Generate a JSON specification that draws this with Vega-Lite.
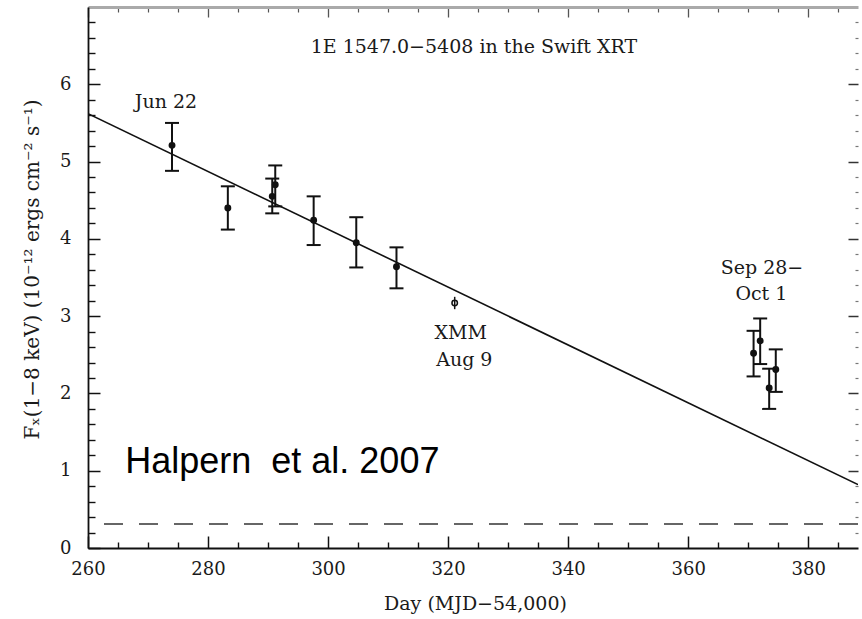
{
  "$schema": "https://vega.github.io/schema/vega-lite/v6.json",
  "width": 770,
  "height": 541,
  "autosize": {"type": "none"},
  "padding": {"left": 88, "top": 7, "right": 4, "bottom": 71},
  "background": "white",
  "config": {
    "view": {"stroke": null},
    "axis": {
      "labelFont": "DejaVu Serif",
      "labelFontSize": 18,
      "labelColor": "#1a1a1a",
      "titleFont": "DejaVu Serif",
      "titleFontSize": 18,
      "titleFontWeight": "normal",
      "titleColor": "#1a1a1a",
      "grid": false,
      "tickColor": "#111",
      "domainColor": "#111"
    }
  },
  "datasets": {
    "swift": [
      {"day": 274.0, "flux": 5.21, "lo": 4.88, "hi": 5.50},
      {"day": 283.3, "flux": 4.40, "lo": 4.12, "hi": 4.68},
      {"day": 290.7, "flux": 4.55, "lo": 4.33, "hi": 4.78},
      {"day": 291.2, "flux": 4.70, "lo": 4.42, "hi": 4.95},
      {"day": 297.6, "flux": 4.24, "lo": 3.92, "hi": 4.55},
      {"day": 304.7, "flux": 3.95, "lo": 3.63, "hi": 4.28},
      {"day": 311.4, "flux": 3.64, "lo": 3.36, "hi": 3.89},
      {"day": 370.9, "flux": 2.52, "lo": 2.22, "hi": 2.81},
      {"day": 372.0, "flux": 2.68, "lo": 2.38, "hi": 2.97},
      {"day": 373.5, "flux": 2.07, "lo": 1.80, "hi": 2.32},
      {"day": 374.6, "flux": 2.31, "lo": 2.02, "hi": 2.57}
    ],
    "xmm": [
      {"day": 321.1, "flux": 3.17, "lo": 3.09, "hi": 3.25}
    ],
    "fit": [
      {"day": 260.0, "flux": 5.62},
      {"day": 388.3, "flux": 0.82}
    ],
    "quiescent": [
      {"flux": 0.31}
    ],
    "labels": [
      {"day": 324.3, "flux": 6.48, "label": "1E 1547.0−5408 in the Swift XRT"},
      {"day": 273.0, "flux": 5.77, "label": "Jun 22"},
      {"day": 372.3, "flux": 3.62, "label": "Sep 28−"},
      {"day": 372.2, "flux": 3.29, "label": "Oct 1"},
      {"day": 322.1, "flux": 2.78, "label": "XMM"},
      {"day": 322.7, "flux": 2.43, "label": "Aug 9"}
    ],
    "credit": [
      {"day": 266.2, "flux": 0.97, "label": "Halpern\u00a0 et al. 2007"}
    ]
  },
  "resolve": {"axis": {"x": "independent", "y": "independent"}},
  "layer": [
    {
      "data": {"name": "fit"},
      "mark": {"type": "line", "color": "#111", "strokeWidth": 1.6, "clip": true},
      "encoding": {
        "x": {
          "field": "day", "type": "quantitative",
          "scale": {"domain": [260, 388.3], "nice": false, "zero": false},
          "axis": {
            "orient": "bottom", "values": [260, 280, 300, 320, 340, 360, 380],
            "ticks": false, "labelPadding": 12, "domainWidth": 1.8,
            "labelFlush": false, "labelOverlap": false,
            "title": "Day (MJD−54,000)", "titleFontSize": 19, "titleX": 387, "titleY": 55,
            "titleBaseline": "middle", "titleAlign": "center"
          }
        },
        "y": {
          "field": "flux", "type": "quantitative",
          "scale": {"domain": [0, 7], "nice": false, "zero": true},
          "axis": {
            "orient": "left", "values": [0, 1, 2, 3, 4, 5, 6],
            "ticks": false, "labelPadding": 17, "domainWidth": 1.8,
            "labelFlush": false, "labelOverlap": false,
            "title": "Fₓ(1−8 keV) (10⁻¹² ergs cm⁻² s⁻¹)", "titleFontSize": 20,
            "titleX": -56, "titleY": 262, "titleBaseline": "middle", "titleAlign": "center", "titleAngle": -90
          }
        }
      }
    },
    {
      "data": {"name": "quiescent"},
      "mark": {"type": "rule", "color": "#666", "strokeWidth": 2, "strokeDash": [19, 16]},
      "encoding": {
        "y": {"field": "flux", "type": "quantitative", "axis": null}
      }
    },
    {
      "data": {"name": "swift"},
      "mark": {"type": "rule", "color": "#111", "strokeWidth": 2},
      "encoding": {
        "x": {
          "field": "day", "type": "quantitative",
          "axis": {
            "orient": "bottom", "values": [260, 280, 300, 320, 340, 360, 380],
            "labels": false, "domain": false, "tickSize": -12, "tickWidth": 1.5, "title": null
          }
        },
        "y": {
          "field": "lo", "type": "quantitative",
          "axis": {
            "orient": "left", "values": [0, 1, 2, 3, 4, 5, 6],
            "labels": false, "domain": false, "tickSize": -12, "tickWidth": 1.5, "title": null
          }
        },
        "y2": {"field": "hi"}
      }
    },
    {
      "data": {"name": "swift"},
      "mark": {"type": "tick", "orient": "horizontal", "color": "#111", "thickness": 2, "size": 14, "opacity": 1},
      "encoding": {
        "x": {
          "field": "day", "type": "quantitative",
          "axis": {
            "orient": "bottom",
            "values": [265, 270, 275, 285, 290, 295, 305, 310, 315, 325, 330, 335, 345, 350, 355, 365, 370, 375, 385],
            "labels": false, "domain": false, "tickSize": -6, "tickWidth": 1.4, "title": null
          }
        },
        "y": {
          "field": "hi", "type": "quantitative",
          "axis": {
            "orient": "left",
            "values": [0.2, 0.4, 0.6, 0.8, 1.2, 1.4, 1.6, 1.8, 2.2, 2.4, 2.6, 2.8, 3.2, 3.4, 3.6, 3.8, 4.2, 4.4, 4.6, 4.8, 5.2, 5.4, 5.6, 5.8, 6.2, 6.4, 6.6, 6.8],
            "labels": false, "domain": false, "tickSize": -7, "tickWidth": 1.4, "title": null
          }
        }
      }
    },
    {
      "data": {"name": "swift"},
      "mark": {"type": "tick", "orient": "horizontal", "color": "#111", "thickness": 2, "size": 14, "opacity": 1},
      "encoding": {
        "x": {
          "field": "day", "type": "quantitative",
          "axis": {
            "orient": "top", "values": [260, 280, 300, 320, 340, 360, 380],
            "labels": false, "domain": false, "tickSize": -10,
            "tickWidth": 1.3, "tickColor": "#555", "title": null
          }
        },
        "y": {
          "field": "lo", "type": "quantitative",
          "axis": {
            "orient": "right", "values": [1, 2, 3, 4, 5, 6],
            "labels": false, "domain": false, "tickSize": -10,
            "tickWidth": 1.5, "tickColor": "#333", "title": null
          }
        }
      }
    },
    {
      "data": {"name": "swift"},
      "mark": {"type": "point", "filled": true, "color": "#111", "size": 48, "opacity": 1},
      "encoding": {
        "x": {
          "field": "day", "type": "quantitative",
          "axis": {
            "orient": "top",
            "values": [265, 270, 275, 285, 290, 295, 305, 310, 315, 325, 330, 335, 345, 350, 355, 365, 370, 375, 385],
            "labels": false, "domain": false, "tickSize": -5,
            "tickWidth": 1.2, "tickColor": "#555", "title": null
          }
        },
        "y": {
          "field": "flux", "type": "quantitative",
          "axis": {
            "orient": "right",
            "values": [0.2, 0.4, 0.6, 0.8, 1.2, 1.4, 1.6, 1.8, 2.2, 2.4, 2.6, 2.8, 3.2, 3.4, 3.6, 3.8, 4.2, 4.4, 4.6, 4.8, 5.2, 5.4, 5.6, 5.8, 6.2, 6.4, 6.6, 6.8],
            "labels": false, "domain": false, "tickSize": -3,
            "tickWidth": 1.2, "tickColor": "#777", "title": null
          }
        }
      }
    },
    {
      "data": {"name": "xmm"},
      "mark": {"type": "rule", "color": "#111", "strokeWidth": 1.5},
      "encoding": {
        "x": {
          "field": "day", "type": "quantitative",
          "axis": {
            "orient": "top", "labels": false, "ticks": false, "domain": true,
            "domainColor": "#aaa", "domainWidth": 3, "title": null
          }
        },
        "y": {"field": "lo", "type": "quantitative", "axis": null},
        "y2": {"field": "hi"}
      }
    },
    {
      "data": {"name": "xmm"},
      "mark": {"type": "point", "filled": false, "color": "#111", "strokeWidth": 1.5, "size": 30, "opacity": 1},
      "encoding": {
        "x": {"field": "day", "type": "quantitative", "axis": null},
        "y": {"field": "flux", "type": "quantitative", "axis": null}
      }
    },
    {
      "data": {"name": "labels"},
      "mark": {"type": "text", "font": "DejaVu Serif", "fontSize": 19, "color": "#1a1a1a", "align": "center", "baseline": "middle"},
      "encoding": {
        "x": {"field": "day", "type": "quantitative", "axis": null},
        "y": {"field": "flux", "type": "quantitative", "axis": null},
        "text": {"field": "label"}
      }
    },
    {
      "data": {"name": "credit"},
      "mark": {"type": "text", "font": "Liberation Sans", "fontSize": 36, "color": "#000", "align": "left", "baseline": "alphabetic"},
      "encoding": {
        "x": {"field": "day", "type": "quantitative", "axis": null},
        "y": {"field": "flux", "type": "quantitative", "axis": null},
        "text": {"field": "label"}
      }
    }
  ]
}
